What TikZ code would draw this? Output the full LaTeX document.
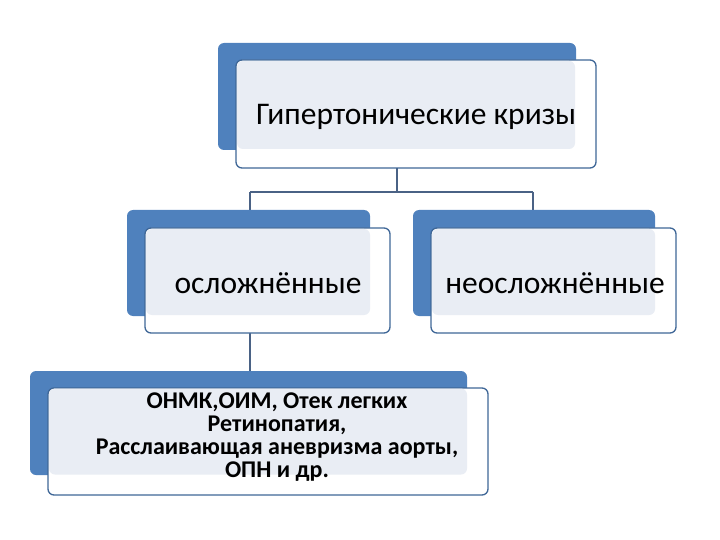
\documentclass[tikz,border=0pt]{standalone}
\usepackage{fontspec}
\setmainfont{Carlito}
\definecolor{bk}{HTML}{4F81BD}
\definecolor{lf}{HTML}{E9EDF4}
\definecolor{ln}{HTML}{4A6285}
\begin{document}
\begin{tikzpicture}[x=1pt,y=-1pt,
  back/.style={fill=bk,rounded corners=6pt,inner sep=0pt},
  front/.style={draw=bk!80!black,line width=1.3pt,fill=white,rounded corners=6pt,inner sep=0pt},
  lite/.style={fill=lf,rounded corners=6pt,inner sep=0pt},
  conn/.style={draw=ln,line width=1.3pt},
  big/.style={font=\fontsize{31.5}{36}\selectfont}]
\useasboundingbox (0,0) rectangle (720,540);
% connectors
\coordinate (j) at (397,192);
\coordinate (jl) at (250,192);
\coordinate (jr) at (533,192);
\draw[conn] (397,160) -- (j);
\draw[conn] (jl) -- (jr);
\draw[conn] (jl) -- (250,215);
\draw[conn] (jr) -- (533,215);
\draw[conn] (250,320) -- (250,375);
% top
\node[back,minimum width=358pt,minimum height=107pt] (tb) at (397,96.5) {};
\node[front,minimum width=360pt,minimum height=108pt] (tf) at (416,114) {};
\node[lite,minimum width=338pt,minimum height=88pt] (tl) at (406,105) {};
\node[big] (tt) at (416,117) {Гипертонические кризы};
% left
\node[back,minimum width=243pt,minimum height=106pt] (lb) at (248.5,263) {};
\node[front,minimum width=245pt,minimum height=105pt] (lf) at (267.5,280.5) {};
\node[lite,minimum width=224pt,minimum height=86pt] (ll) at (258,272) {};
\node[big] (lt) at (268,283) {осложнённые};
% right
\node[back,minimum width=242pt,minimum height=106pt] (rb) at (534,263) {};
\node[front,minimum width=245pt,minimum height=105pt] (rf) at (553.5,280.5) {};
\node[lite,minimum width=223pt,minimum height=86pt] (rl) at (543.5,272) {};
\node[big] (rt) at (555,283) {неосложнённые};
% bottom
\node[back,minimum width=437pt,minimum height=104pt] (bb) at (248.5,423) {};
\node[front,minimum width=440pt,minimum height=107pt] (bf) at (268,441.5) {};
\node[lite,minimum width=418pt,minimum height=86pt] (bl) at (258,431.5) {};
\node[font=\bfseries\fontsize{24}{23}\selectfont,align=center] (bt) at (277,437) {ОНМК,ОИМ, Отек легких\\Ретинопатия,\\Расслаивающая аневризма аорты,\\ОПН и др.};
\end{tikzpicture}
\end{document}
